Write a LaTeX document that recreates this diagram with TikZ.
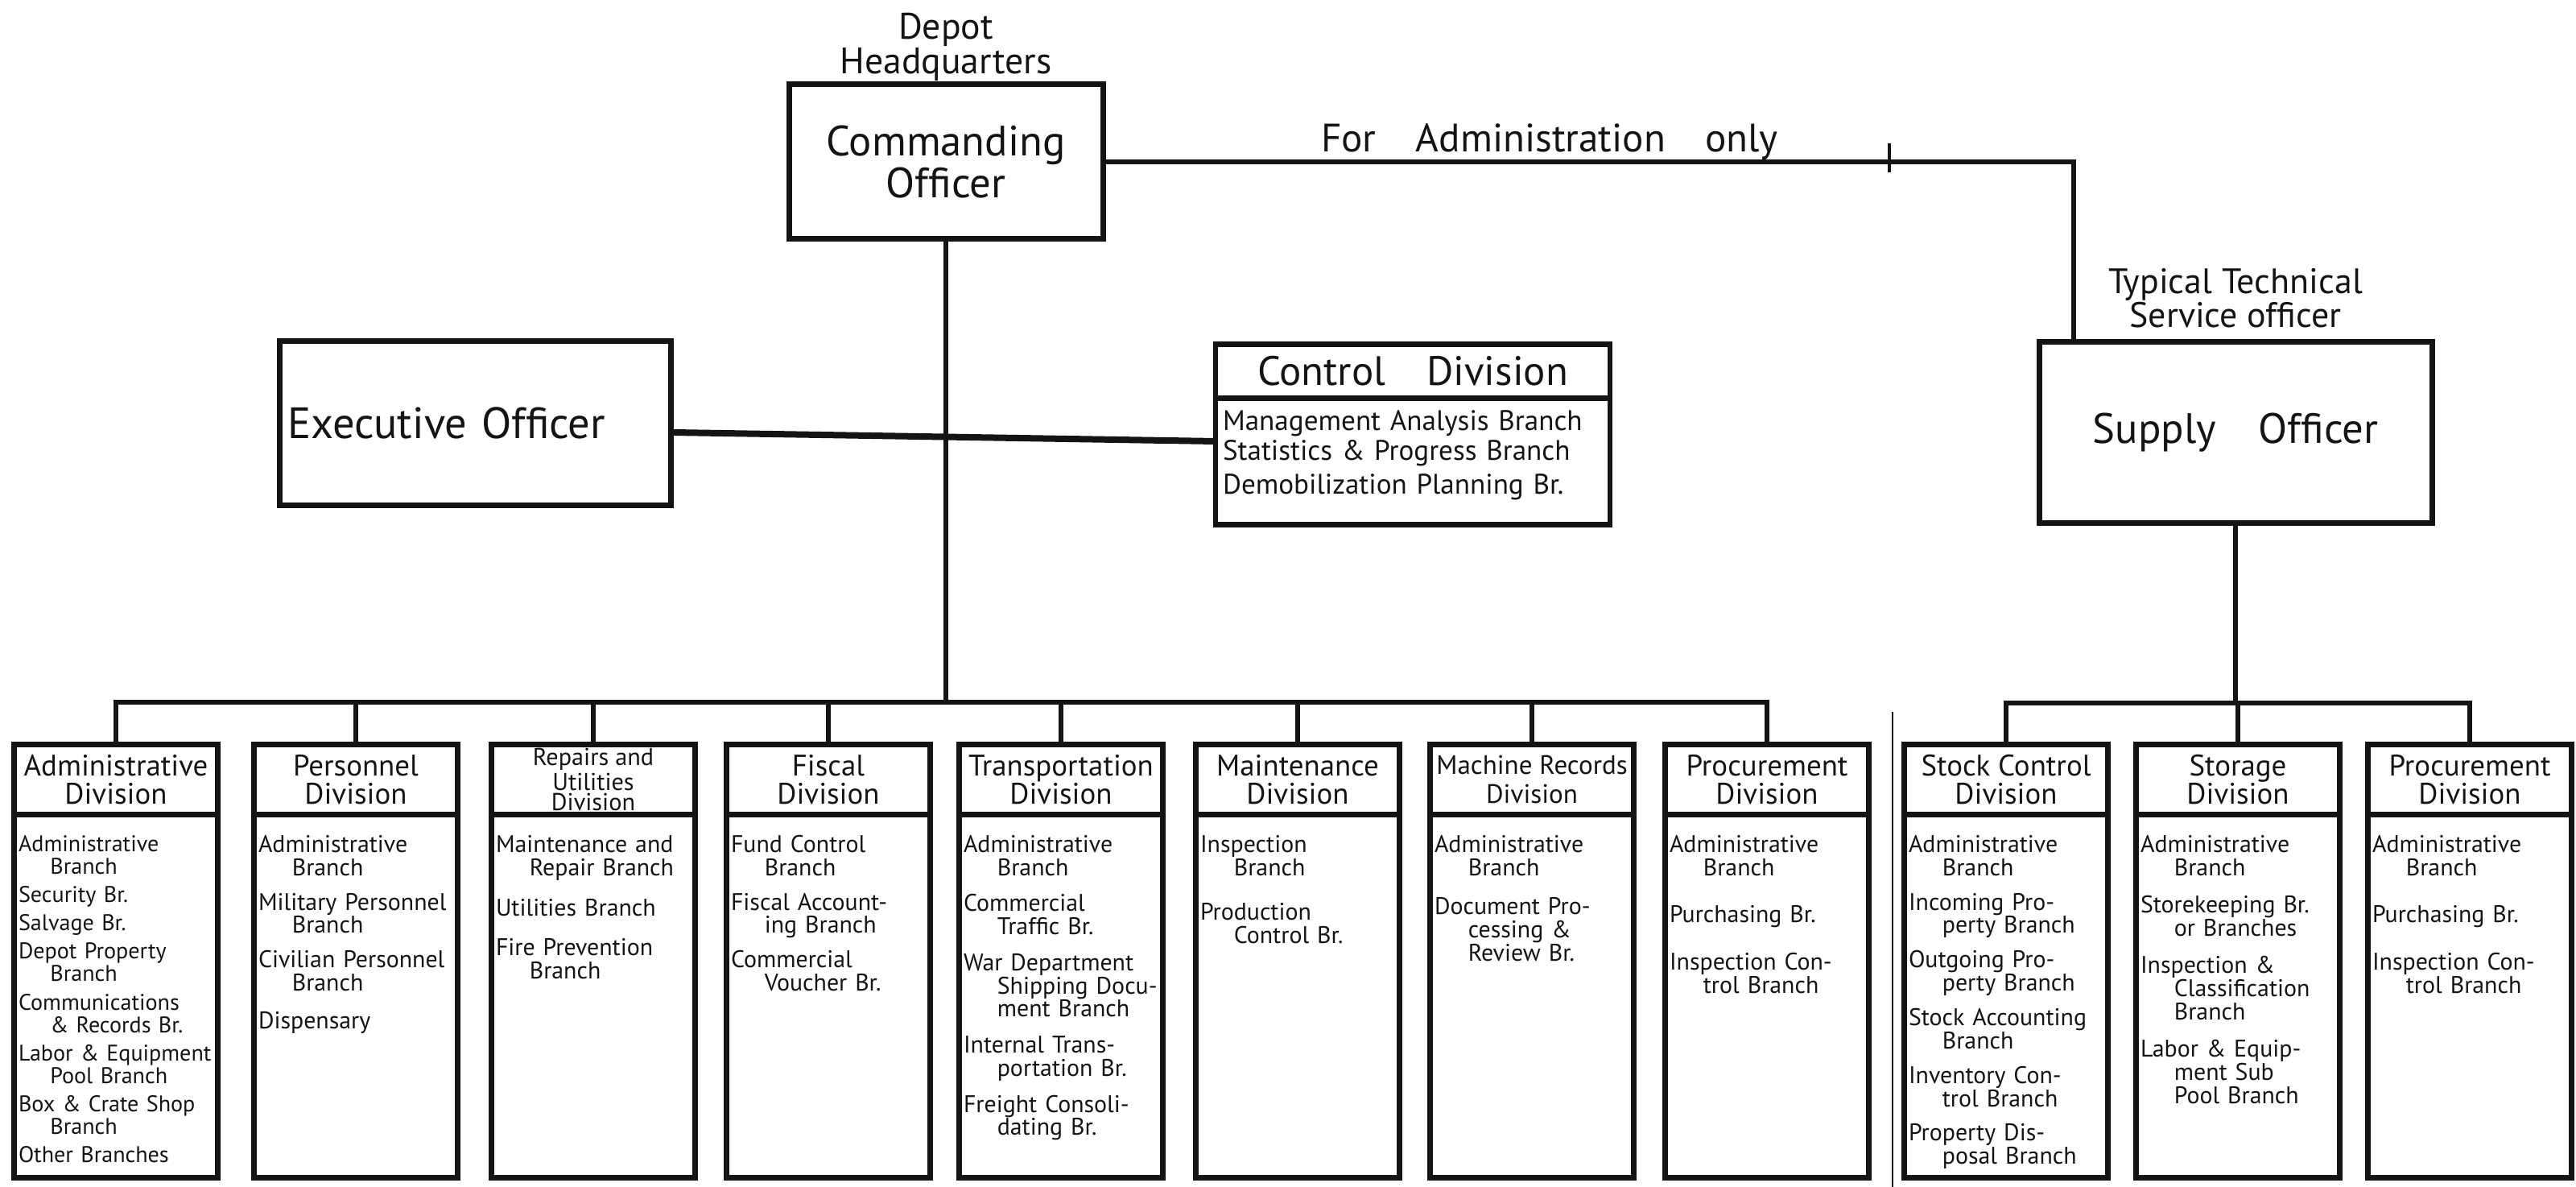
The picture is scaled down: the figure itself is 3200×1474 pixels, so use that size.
\documentclass[tikz,border=0pt]{standalone}
\usepackage{fontspec}
\setmainfont{PT Sans}
\setsansfont{PT Sans}
\usetikzlibrary{positioning,calc}
\definecolor{ink}{HTML}{141414}
\newcommand{\wrap}{\\\hspace*{1.4em}}

\begin{document}
\begin{tikzpicture}[x=0.1mm,y=-0.1mm,font=\sffamily,color=ink,
 officer/.style={draw=ink,line width=0.7mm,inner sep=1mm,align=center},
 divhead/.style={draw=ink,line width=0.65mm,minimum width=25.3mm,minimum height=8.7mm,inner sep=0.5mm,outer sep=0pt,align=center,font=\sffamily\fontsize{10.5}{10}\selectfont},
 divbody/.style={draw=ink,line width=0.65mm,minimum width=25.3mm,minimum height=45.1mm,outer sep=0pt},
 branches/.style={text width=24.2mm,align=left,inner sep=0pt,font=\sffamily\fontsize{8.5}{8.2}\selectfont},
 caption/.style={inner sep=0pt,align=center},
 link/.style={draw=ink,line width=0.55mm},
 fine/.style={draw=ink,line width=0.25mm}]
\useasboundingbox (0,0) rectangle (3200,1474);
\node[officer,minimum width=39mm,minimum height=19.2mm,font=\sffamily\fontsize{15}{14.8}\selectfont] (co) at (1175,201) {Commanding\\Officer};
\node[caption,above=0mm of co,font=\sffamily\fontsize{13}{12.2}\selectfont] (hq) {Depot\\Headquarters};
\node[caption,font=\sffamily\fontsize{14}{14}\selectfont] (adm) at (1925,176) {For\hspace{14pt}Administration\hspace{14pt}only};
\node[officer,minimum height=20.4mm,text width=46.6mm,align=left,font=\sffamily\fontsize{15.5}{16}\selectfont] (exec) at (590,525) {Executive Officer};
\node[divhead,minimum width=49mm,minimum height=6.7mm,font=\sffamily\fontsize{14.5}{14}\selectfont] (ctrl) at (1755,461) {Control\quad Division};
\node[divbody,minimum width=49mm,minimum height=15.7mm,below=0pt of ctrl] (ctrlb) {};
\node[branches,text width=47.2mm,font=\sffamily\fontsize{10}{10.5}\selectfont,below=1.4mm of ctrl] (ctrll) {Management Analysis Branch\\Statistics \& Progress Branch\\[1.5pt]Demobilization Planning Br.};
\node[officer,minimum width=48.8mm,minimum height=22.5mm,font=\sffamily\fontsize{15}{16}\selectfont] (sup) at (2777,537) {Supply\quad Officer};
\node[caption,above=1.3mm of sup,font=\sffamily\fontsize{12.5}{12}\selectfont] (tts) {Typical Technical\\Service officer};
\node[divhead] (d1) at (144,968) {Administrative\\Division};
\node[divbody,below=0pt of d1] (b1) {};
\node[branches,font=\sffamily\fontsize{8}{8}\selectfont,below=2.5mm of d1] (l1) {Administrative\wrap Branch\\[2pt]Security Br.\\[2pt]Salvage Br.\\[2pt]Depot Property\wrap Branch\\[2pt]Communications\wrap \& Records Br.\\[2pt]Labor \& Equipment\wrap Pool Branch\\[2pt]Box \& Crate Shop\wrap Branch\\[2pt]Other Branches};
\node[divhead] (d2) at (442,968) {Personnel\\Division};
\node[divbody,below=0pt of d2] (b2) {};
\node[branches,below=2.5mm of d2] (l2) {Administrative\wrap Branch\\[4pt]Military Personnel\wrap Branch\\[4pt]Civilian Personnel\wrap Branch\\[5pt]Dispensary};
\node[divhead] (d3) at (737,968) {};
\node[caption,font=\sffamily\fontsize{8.6}{7.2}\selectfont] (d3t) at (d3) {Repairs and\\Utilities\\Division};
\node[divbody,below=0pt of d3] (b3) {};
\node[branches,below=2.5mm of d3] (l3) {Maintenance and\wrap Repair Branch\\[6pt]Utilities Branch\\[6pt]Fire Prevention\wrap Branch};
\node[divhead] (d4) at (1029,968) {Fiscal\\Division};
\node[divbody,below=0pt of d4] (b4) {};
\node[branches,below=2.5mm of d4] (l4) {Fund Control\wrap Branch\\[4pt]Fiscal Account-\wrap ing Branch\\[4pt]Commercial\wrap Voucher Br.};
\node[divhead] (d5) at (1318,968) {Transportation\\Division};
\node[divbody,below=0pt of d5] (b5) {};
\node[branches,below=2.5mm of d5] (l5) {Administrative\wrap Branch\\[4.5pt]Commercial\wrap Traffic Br.\\[4.5pt]War Department\wrap Shipping Docu-\wrap ment Branch\\[4.5pt]Internal Trans-\wrap portation Br.\\[4.5pt]Freight Consoli-\wrap dating Br.};
\node[divhead] (d6) at (1612,968) {Maintenance\\Division};
\node[divbody,below=0pt of d6] (b6) {};
\node[branches,below=2.5mm of d6] (l6) {Inspection\wrap Branch\\[7.5pt]Production\wrap Control Br.};
\node[divhead,font=\sffamily\fontsize{9.4}{10}\selectfont] (d7) at (1903,968) {Machine Records\\Division};
\node[divbody,below=0pt of d7] (b7) {};
\node[branches,below=2.5mm of d7] (l7) {Administrative\wrap Branch\\[5.5pt]Document Pro-\wrap cessing \&\wrap Review Br.};
\node[divhead] (d8) at (2195,968) {Procurement\\Division};
\node[divbody,below=0pt of d8] (b8) {};
\node[branches,below=2.5mm of d8] (l8) {Administrative\wrap Branch\\[8.5pt]Purchasing Br.\\[8.5pt]Inspection Con-\wrap trol Branch};
\node[divhead] (d9) at (2492,968) {Stock Control\\Division};
\node[divbody,below=0pt of d9] (b9) {};
\node[branches,below=2.5mm of d9] (l9) {Administrative\wrap Branch\\[4pt]Incoming Pro-\wrap perty Branch\\[4pt]Outgoing Pro-\wrap perty Branch\\[4pt]Stock Accounting\wrap Branch\\[4pt]Inventory Con-\wrap trol Branch\\[4pt]Property Dis-\wrap posal Branch};
\node[divhead] (d10) at (2780,968) {Storage\\Division};
\node[divbody,below=0pt of d10] (b10) {};
\node[branches,below=2.5mm of d10] (l10) {Administrative\wrap Branch\\[5pt]Storekeeping Br.\wrap or Branches\\[5pt]Inspection \&\wrap Classification\wrap Branch\\[5pt]Labor \& Equip-\wrap ment Sub\wrap Pool Branch};
\node[divhead] (d11) at (3068,968) {Procurement\\Division};
\node[divbody,below=0pt of d11] (b11) {};
\node[branches,below=2.5mm of d11] (l11) {Administrative\wrap Branch\\[8.5pt]Purchasing Br.\\[8.5pt]Inspection Con-\wrap trol Branch};
\coordinate (bus) at (1175,872);
\coordinate (sbus) at (2777,873);
\coordinate (turn) at (2576,201);
\coordinate (tick) at (2347,196);
\coordinate (septop) at (2351,884);
\coordinate (sepbot) at (2351,1474);
\draw[link] (co.south) -- (bus);
\draw[link] (d1.north) |- (bus) -| (d8.north);
\foreach \d in {d2,d3,d4,d5,d6,d7} \draw[link] (\d.north) -- (\d.north |- bus);
\draw[link] (sup.south) -- (sbus);
\draw[link] (d9.north) |- (sbus) -| (d11.north);
\draw[link] (d10.north) -- (d10.north |- sbus);
\draw[link] (co.east) -- (turn) -- (turn |- sup.north);
\draw[link,line width=0.8mm] ($(exec.east)+(0,12)$) -- ($(exec.east -| ctrlb.west)+(0,23)$);
\draw[link,line width=0.45mm] (tick) ++(0,-18) -- ++(0,36);
\draw[fine] (septop) -- (sepbot);
\end{tikzpicture}
\end{document}
